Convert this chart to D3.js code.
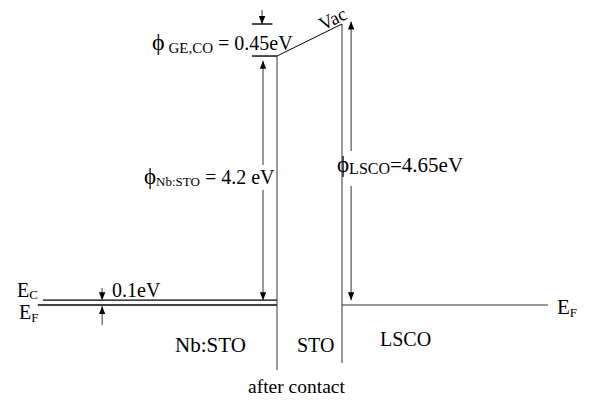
<!DOCTYPE html>
<html><head><meta charset="utf-8">
<script src="https://cdn.jsdelivr.net/npm/d3@7"></script>
<style>
html,body{margin:0;padding:0;background:#fff;}
text{font-family:"Times New Roman","Liberation Serif","DejaVu Serif","Noto Serif",Times,serif;}
</style></head>
<body><svg id="c" width="590" height="410"></svg>
<script>
// ---- data (energies in eV above E_F, as drawn; x in units of STO layer width) ----
const levelNames = ["EF", "EC", "vacNb", "vacLSCO"];
const levelValues = [0, 0.08, 4.12, 4.65];
const regionNames = ["Nb:STO", "STO", "LSCO"];
const regionBounds = [-3.6, 0, 1, 4.17];
const workFunctionLabels = ["Nb:STO", "LSCO", "GE,CO"];
const workFunctionValues = [4.2, 4.65, 0.45];
const offsetLabel = "0.1eV";
const bottomCaption = "after contact";

const L = {}; levelNames.forEach((n,i)=>L[n]=levelValues[i]);

const svg = d3.select("#c");
const x = d3.scaleLinear().domain([0,1]).range([277,342]);
const y = d3.scaleLinear().domain([0,4.65]).range([305,24]);

const defs = svg.append("defs");
defs.append("marker").attr("id","ah").attr("viewBox","0 0 10 10")
  .attr("refX",10).attr("refY",5).attr("markerWidth",8).attr("markerHeight",8)
  .attr("markerUnits","userSpaceOnUse").attr("orient","auto-start-reverse")
  .append("path").attr("d","M0,1 L10,5 L0,9 Z").attr("fill","#000");

svg.append("rect").attr("x",0).attr("y",0).attr("width",590).attr("height",410).attr("fill","#fff");
const g = svg.append("g");
function seg(x1,e1,x2,e2,w,col){
  return g.append("line").attr("x1",x(x1)).attr("y1",y(e1)).attr("x2",x(x2)).attr("y2",y(e2))
    .attr("stroke",col||"#000").attr("stroke-width",w||1);
}
seg(regionBounds[0], L.EC, regionBounds[1], L.EC, 1.4);
seg(-3.68, L.EF, regionBounds[1], L.EF, 1.4);
seg(regionBounds[2], L.EF, regionBounds[3], L.EF, 1, "#333");
seg(regionBounds[1], L.vacNb, regionBounds[1], -1.08, 1, "#333");
seg(regionBounds[2], L.vacLSCO, regionBounds[2], -0.96, 1, "#333");
seg(regionBounds[1], L.vacNb, regionBounds[2], L.vacLSCO, 1);
seg(-0.385, L.vacNb, 0, L.vacNb, 1.4);
seg(-0.385, L.vacLSCO, -0.07, L.vacLSCO, 1.4);

function arrow(xu, e1, e2, both){
  const l = seg(xu, e1, xu, e2, 1, "#333").attr("marker-end","url(#ah)");
  if(both) l.attr("marker-start","url(#ah)");
  return l;
}
arrow(-0.23, L.vacLSCO+0.23, L.vacLSCO, false);
arrow(-0.215, L.vacNb-0.08, L.EC, true);
arrow(1.14, L.vacLSCO+0.04, L.EC, true);
arrow(-2.69, L.EC+0.2, L.EC, false);
arrow(-2.69, L.EF-0.33, L.EF-0.02, false);

g.append("rect").attr("x",x(-0.3)).attr("y",165).attr("width",10).attr("height",25).attr("fill","#fff");
g.append("rect").attr("x",x(1.07)).attr("y",151).attr("width",10).attr("height",35).attr("fill","#fff");

function label(xp, yp, parts){
  const t = svg.append("text").attr("x",xp).attr("y",yp).attr("fill","#000");
  parts.forEach(p=>{
    const s = t.append("tspan").text(p.t).attr("font-size",(p.s||19));
    if(p.dy) s.attr("dy",p.dy);
    if(p.dx) s.attr("dx",p.dx);
  });
  return t;
}

label(17, 297, [{t:"E",s:20},{t:"C",s:13,dy:2}]);
label(19, 319, [{t:"E",s:20},{t:"F",s:13,dy:3}]);
label(557, 314, [{t:"E",s:21},{t:"F",s:13,dy:3}]);
label(112, 297, [{t:offsetLabel,s:20}]);

label(152, 50, [{t:"ϕ",s:24},{t:" "+workFunctionLabels[2],s:15,dy:3},{t:" = "+workFunctionValues[2].toFixed(2)+"eV",s:20,dy:-3}]);
label(144, 184, [{t:"ϕ",s:23},{t:workFunctionLabels[0],s:13,dy:2},{t:" = "+workFunctionValues[0].toFixed(1)+" eV",s:20,dy:-2}]);
label(337, 172, [{t:"ϕ",s:23},{t:workFunctionLabels[1],s:16,dy:2},{t:"="+workFunctionValues[1].toFixed(2)+"eV",s:21,dy:-2}]);

svg.append("text").attr("transform","translate(323,31) rotate(-27)").attr("font-size",19).text("Vac");

label(175, 352, [{t:regionNames[0],s:21}]);
label(297, 352, [{t:regionNames[1],s:20}]);
label(380, 346, [{t:regionNames[2],s:20}]);
label(248, 393, [{t:bottomCaption,s:19.5}]);
</script></body></html>
